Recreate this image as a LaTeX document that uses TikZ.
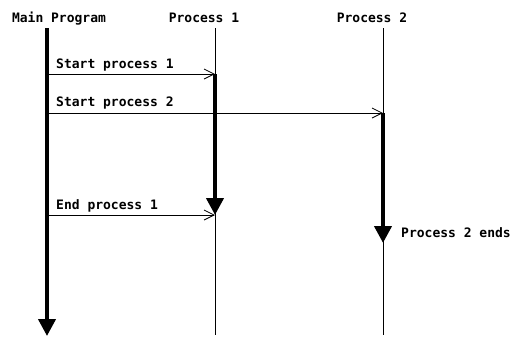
\documentclass[tikz,border=0pt]{standalone}
\usepackage{fontspec}
\setmainfont{DejaVu Sans Mono}
\usetikzlibrary{arrows.meta}
\begin{document}
\begin{tikzpicture}[x=1pt,y=-1pt,
  lbl/.style={font=\bfseries\fontsize{13}{15}\selectfont, inner sep=0pt},
  life/.style={line width=0.8pt},
  active/.style={line width=4pt, -{Triangle[width=17pt,length=17pt]}},
  msg/.style={line width=0.8pt, -{Straight Barb[length=10pt,width=10pt,line width=0.8pt]}}]
\useasboundingbox (0,0) rectangle (532,338);
% headers
\node[lbl, anchor=base] (hmain) at (59,22) {Main Program};
\node[lbl, anchor=base] (hp1) at (204,22) {Process 1};
\node[lbl, anchor=base] (hp2) at (372,22) {Process 2};
% lifeline coordinates
\coordinate (m0) at (47,28);
\coordinate (mend) at (47,336);
\coordinate (p1top) at (215,28);
\coordinate (p1bot) at (215,335);
\coordinate (p2top) at (383,28);
\coordinate (p2bot) at (383,335);
\coordinate (p1s) at (215,74);
\coordinate (p1e) at (215,215);
\coordinate (p2s) at (383,113);
\coordinate (p2e) at (383,243);
\coordinate (ms1) at (47,74);
\coordinate (ms2) at (47,113);
\coordinate (me1) at (47,215);
\coordinate (p1m) at (215,215);
% thin lifelines
\draw[life] (p1top) -- (p1bot);
\draw[life] (p2top) -- (p2bot);
% thick activations
\draw[active] (m0) -- (mend);
\draw[active] (p1s) -- (p1e);
\draw[active] (p2s) -- (p2e);
% messages
\draw[msg] (ms1) -- (p1s);
\draw[msg] (ms2) -- (p2s);
\draw[msg] (me1) -- (p1m);
\node[lbl, anchor=base west] (l1) at (56,68) {Start process 1};
\node[lbl, anchor=base west] (l2) at (56,106) {Start process 2};
\node[lbl, anchor=base west] (l3) at (56,209) {End process 1};
\node[lbl, anchor=base west] (endl) at (401,237) {Process 2 ends};
\end{tikzpicture}
\end{document}
